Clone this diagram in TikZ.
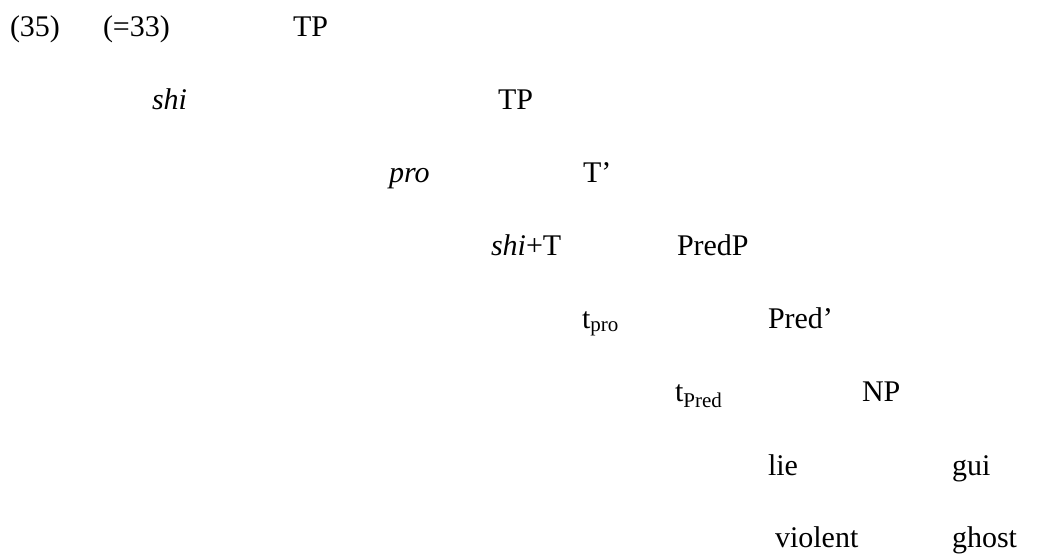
\documentclass[tikz,border=0pt]{standalone}
\usepackage{fontspec}
\setmainfont{Liberation Serif}
\tikzset{lbl/.style={anchor=base west, inner sep=0pt, outer sep=0pt, font=\fontsize{30}{36}\selectfont}}
\begin{document}
\begin{tikzpicture}[x=1pt,y=-1pt]
\useasboundingbox (0,0) rectangle (1044,557);
\node[lbl] (n35) at (10,36) {(35)};
\node[lbl] (n33) at (103,36) {(=33)};
\node[lbl] (tp1) at (293,36) {TP};
\node[lbl] (shi) at (152,109) {\textit{shi}};
\node[lbl] (tp2) at (498,109) {TP};
\node[lbl] (pro) at (389,182) {\textit{pro}};
\node[lbl] (tbar) at (583,182) {T’};
\node[lbl] (shiT) at (491,255) {\textit{shi}+T};
\node[lbl] (predp) at (677,255) {PredP};
\node[lbl] (tpro) at (582,328) {t\textsubscript{pro}};
\node[lbl] (predbar) at (768,328) {Pred’};
\node[lbl] (tpred) at (675,401) {t\textsubscript{Pred}};
\node[lbl] (np) at (862,401) {NP};
\node[lbl] (lie) at (768,475) {lie};
\node[lbl] (gui) at (952,475) {gui};
\node[lbl] (violent) at (775,547) {violent};
\node[lbl] (ghost) at (952,547) {ghost};
\end{tikzpicture}
\end{document}
